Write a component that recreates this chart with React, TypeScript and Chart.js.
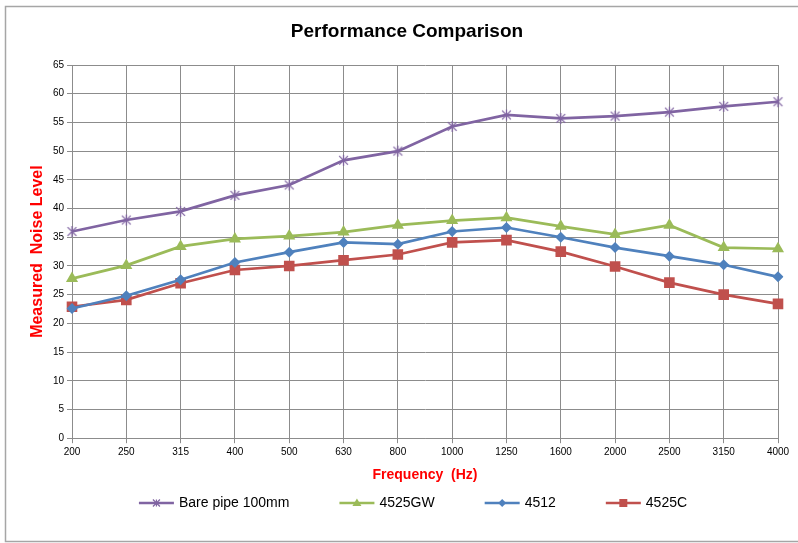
import React, { useEffect, useRef } from "react";
import { Chart, registerables } from "chart.js";

Chart.register(...registerables);

const categories = ["200", "250", "315", "400", "500", "630", "800", "1000", "1250", "1600", "2000", "2500", "3150", "4000"];
const barePipe = [36, 38, 39.5, 42.3, 44.1, 48.4, 50, 54.3, 56.3, 55.7, 56.1, 56.8, 57.8, 58.6];
const gw4525 = [27.8, 30.1, 33.4, 34.7, 35.2, 35.9, 37.1, 37.9, 38.4, 36.9, 35.5, 37.1, 33.2, 33.0];
const s4512 = [22.6, 24.8, 27.6, 30.6, 32.4, 34.1, 33.8, 36.0, 36.7, 35.0, 33.2, 31.7, 30.2, 28.1];
const c4525 = [22.9, 24.1, 27.0, 29.3, 30.0, 31.0, 32.0, 34.1, 34.5, 32.5, 29.9, 27.1, 25.0, 23.4];

const TITLE = "Performance Comparison";
const PURPLE = "#8064A2";
const GREEN = "#9BBB59";
const BLUE = "#4F81BD";
const RED = "#C0504D";
const FONT = "Liberation Sans, Arial, sans-serif";

function starMarker(color: string, size: number, lw: number) {
  const c = document.createElement("canvas");
  c.width = size;
  c.height = size;
  const ctx = c.getContext("2d")!;
  const h = size / 2;
  const r = h - 1;
  ctx.strokeStyle = color;
  ctx.lineWidth = lw;
  ctx.beginPath();
  ctx.moveTo(h - r * 0.8, h - r * 0.8);
  ctx.lineTo(h + r * 0.8, h + r * 0.8);
  ctx.moveTo(h + r * 0.8, h - r * 0.8);
  ctx.lineTo(h - r * 0.8, h + r * 0.8);
  ctx.moveTo(h, h - r);
  ctx.lineTo(h, h + r);
  ctx.stroke();
  return c;
}

function drawLegendSymbol(ctx: CanvasRenderingContext2D, x: number, cy: number, w: number, color: string, kind: string) {
  const cx = x + w / 2;
  ctx.save();
  ctx.strokeStyle = color;
  ctx.fillStyle = color;
  ctx.lineWidth = 2.5;
  ctx.beginPath();
  ctx.moveTo(x, cy);
  ctx.lineTo(x + w, cy);
  ctx.stroke();
  ctx.beginPath();
  if (kind === "star") {
    ctx.lineWidth = 1.2;
    const r = 3.5;
    ctx.moveTo(cx - r, cy - r);
    ctx.lineTo(cx + r, cy + r);
    ctx.moveTo(cx + r, cy - r);
    ctx.lineTo(cx - r, cy + r);
    ctx.moveTo(cx, cy - r);
    ctx.lineTo(cx, cy + r);
    ctx.stroke();
  } else if (kind === "triangle") {
    ctx.moveTo(cx, cy - 4.5);
    ctx.lineTo(cx + 4.5, cy + 3);
    ctx.lineTo(cx - 4.5, cy + 3);
    ctx.closePath();
    ctx.fill();
  } else if (kind === "diamond") {
    ctx.moveTo(cx, cy - 4);
    ctx.lineTo(cx + 4, cy);
    ctx.lineTo(cx, cy + 4);
    ctx.lineTo(cx - 4, cy);
    ctx.closePath();
    ctx.fill();
  } else {
    ctx.rect(cx - 4, cy - 4, 8, 8);
    ctx.fill();
  }
  ctx.restore();
}

export default function App() {
  const ref = useRef<HTMLCanvasElement | null>(null);

  useEffect(() => {
    document.body.style.margin = "0";
    const canvas = ref.current!;
    const kinds = ["star", "triangle", "diamond", "square"];

    const borderPlugin = {
      id: "outerBorder",
      beforeDraw(chart: any) {
        const ctx = chart.ctx;
        ctx.save();
        ctx.fillStyle = "#ffffff";
        ctx.fillRect(0, 0, chart.width, chart.height);
        ctx.strokeStyle = "#a6a6a6";
        ctx.lineWidth = 1.5;
        ctx.strokeRect(5.5, 6.5, 800, 535);
        ctx.restore();
      },
    };

    const titleLegendPlugin = {
      id: "excelTitleLegend",
      afterDraw(chart: any) {
        const ctx = chart.ctx as CanvasRenderingContext2D;
        ctx.save();
        ctx.fillStyle = "#000000";
        ctx.textBaseline = "middle";
        ctx.textAlign = "center";
        ctx.font = `bold 19px ${FONT}`;
        ctx.fillText(TITLE, 407, 32);

        const datasets = chart.data.datasets;
        const symW = 35;
        const gapText = 5;
        const gapItem = 50;
        const cy = 503;
        const centerX = 413;
        ctx.font = `14px ${FONT}`;
        const widths = datasets.map((ds: any) => symW + gapText + ctx.measureText(ds.label).width);
        const total = widths.reduce((a: number, b: number) => a + b, 0) + gapItem * (datasets.length - 1);
        let x = centerX - total / 2;
        datasets.forEach((ds: any, i: number) => {
          drawLegendSymbol(ctx, x, cy, symW, ds.borderColor, kinds[i]);
          ctx.fillStyle = "#000000";
          ctx.textBaseline = "middle";
          ctx.textAlign = "left";
          ctx.fillText(ds.label, x + symW + gapText, cy);
          x += widths[i] + gapItem;
        });
        ctx.restore();
      },
    };

    const chart = new Chart(canvas, {
      type: "line",
      data: {
        labels: categories,
        datasets: [
          {
            label: "Bare pipe 100mm",
            data: barePipe,
            borderColor: PURPLE,
            backgroundColor: PURPLE,
            borderWidth: 2.7,
            pointStyle: starMarker(PURPLE, 13, 1.3) as any,
            pointRadius: 6,
            tension: 0,
          },
          {
            label: "4525GW",
            data: gw4525,
            borderColor: GREEN,
            backgroundColor: GREEN,
            borderWidth: 2.7,
            pointStyle: "triangle",
            pointRadius: 7,
            pointBorderWidth: 0,
            tension: 0,
          },
          {
            label: "4512",
            data: s4512,
            borderColor: BLUE,
            backgroundColor: BLUE,
            borderWidth: 2.7,
            pointStyle: "rectRot",
            pointRadius: 5.5,
            pointBorderWidth: 0,
            tension: 0,
          },
          {
            label: "4525C",
            data: c4525,
            borderColor: RED,
            backgroundColor: RED,
            borderWidth: 2.7,
            pointStyle: "rect",
            pointRadius: 7.5,
            pointBorderWidth: 0,
            tension: 0,
          },
        ],
      },
      options: {
        animation: false,
        responsive: false,
        maintainAspectRatio: false,
        layout: { padding: { left: 20, right: 20, top: 65, bottom: 56 } },
        plugins: {
          title: { display: false },
          legend: { display: false },
          tooltip: { enabled: false },
        },
        scales: {
          x: {
            offset: false,
            grid: { color: "#8c8c8c", lineWidth: 1, tickLength: 5, drawTicks: true },
            border: { color: "#8c8c8c", width: 1 },
            ticks: {
              color: "#000000",
              padding: 3,
              maxRotation: 0,
              autoSkip: false,
              font: { family: FONT, size: 10 },
            },
            title: {
              display: true,
              text: "Frequency  (Hz)",
              color: "#ff0000",
              font: { family: FONT, size: 14, weight: "bold" },
              padding: { top: 6, bottom: 3 },
            },
          },
          y: {
            min: 0,
            max: 65,
            afterFit(scale: any) {
              scale.width = 52;
            },
            grid: { color: "#8c8c8c", lineWidth: 1, tickLength: 5, drawTicks: true },
            border: { color: "#8c8c8c", width: 1 },
            ticks: {
              stepSize: 5,
              color: "#000000",
              padding: 3,
              font: { family: FONT, size: 10 },
            },
            title: {
              display: true,
              text: "Measured  Noise Level",
              color: "#ff0000",
              font: { family: FONT, size: 16, weight: "bold" },
              padding: { top: 8, bottom: 4 },
            },
          },
        },
      },
      plugins: [borderPlugin, titleLegendPlugin],
    });
    return () => chart.destroy();
  }, []);

  return (
    <div style={{ position: "absolute", left: 0, top: 0, width: 798, height: 543 }}>
      <canvas ref={ref} width={798} height={543} style={{ display: "block" }} />
    </div>
  );
}
